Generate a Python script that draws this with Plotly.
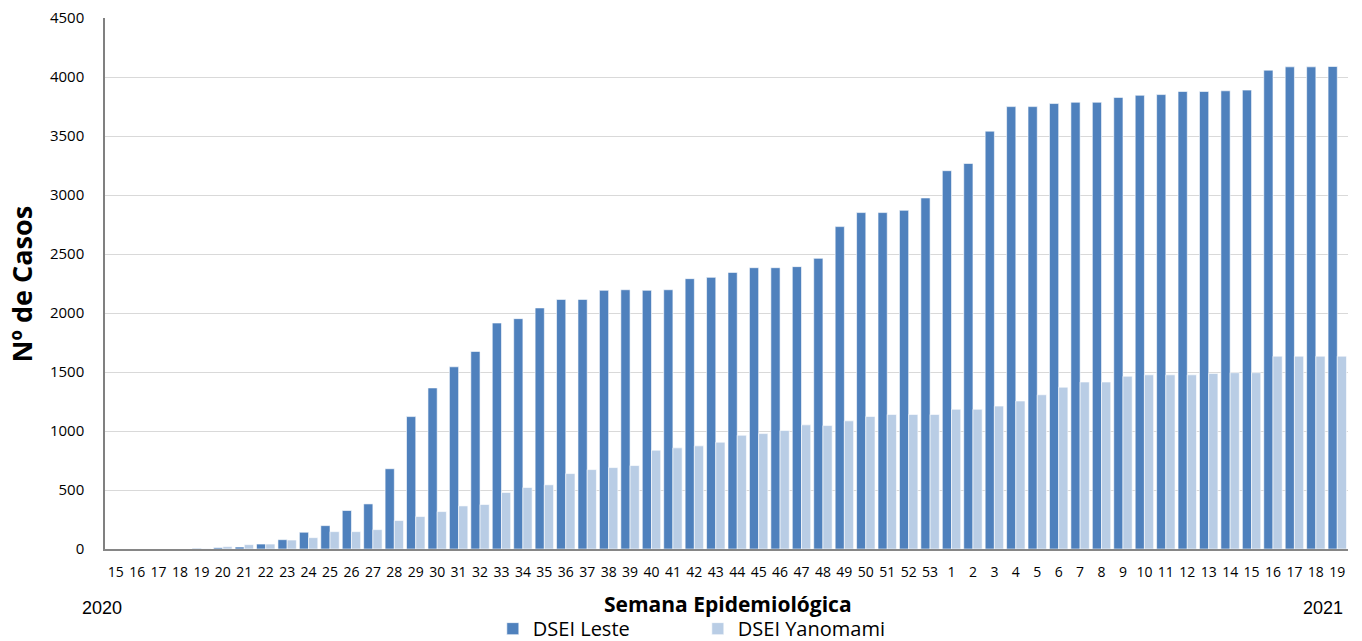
import plotly.graph_objects as go

weeks = [str(w) for w in range(15, 54)] + [str(w) for w in range(1, 20)]

dsei_leste = [0, 0, 0, 0, 5, 11, 17, 42, 79, 142, 198, 326, 382, 680, 1122, 1365, 1544, 1674,
              1915, 1952, 2043, 2115, 2115, 2192, 2197, 2192, 2197, 2291, 2302, 2344, 2384, 2384,
              2393, 2463, 2732, 2851, 2851, 2870, 2975,
              3206, 3267, 3541, 3749, 3749, 3775, 3786, 3786, 3827, 3845, 3851, 3877, 3877, 3883,
              3889, 4058, 4086, 4086, 4089]

dsei_yanomami = [0, 0, 0, 0, 2, 20, 37, 42, 76, 96, 147, 147, 164, 241, 275, 317, 365, 377,
                 479, 521, 544, 639, 673, 690, 707, 837, 857, 874, 905, 964, 978, 1004,
                 1052, 1046, 1086, 1123, 1140, 1140, 1140,
                 1184, 1184, 1211, 1254, 1307, 1371, 1415, 1415, 1464, 1476, 1476, 1476, 1488, 1494,
                 1494, 1634, 1634, 1634, 1634]

y_ticks = [0, 500, 1000, 1500, 2000, 2500, 3000, 3500, 4000, 4500]

x_pos = list(range(len(weeks)))

FONT = "'Open Sans', Lato, sans-serif"
ARIAL = "'Liberation Sans', Arial, sans-serif"

fig = go.Figure()
fig.add_trace(go.Bar(x=x_pos, y=dsei_leste, name="DSEI Leste",
                     marker=dict(color="#4F81BD", line=dict(color="white", width=0.6))))
fig.add_trace(go.Bar(x=x_pos, y=dsei_yanomami, name="DSEI Yanomami",
                     marker=dict(color="#B9CDE5", line=dict(color="white", width=0.6))))

fig.update_layout(
    width=1362, height=641,
    margin=dict(l=105, r=14, t=18, b=92, autoexpand=False),
    paper_bgcolor="white", plot_bgcolor="white",
    barmode="group", bargap=0.14, bargroupgap=0.0,
    font=dict(family=FONT, color="#000000"),
    showlegend=True,
    legend=dict(orientation="h", x=0.312, xanchor="left", y=-0.150, yanchor="middle",
                font=dict(size=20, family=FONT, color="#000000"),
                entrywidth=160, entrywidthmode="pixels", itemwidth=30,
                bgcolor="rgba(0,0,0,0)"),
    xaxis=dict(tickmode="array", tickvals=x_pos, ticktext=weeks,
               range=[-0.5, len(weeks) - 0.5],
               showgrid=False, showline=True, linecolor="#868686", linewidth=1.5,
               ticks="", tickfont=dict(size=14, family=FONT, color="#000000"),
               ticklabelstandoff=9),
    yaxis=dict(range=[0, 4500], tickvals=y_ticks, showgrid=True, gridcolor="#D9D9D9",
               gridwidth=1.2, showline=True, linecolor="#808080", linewidth=1.5,
               ticks="", tickfont=dict(size=15, family=FONT, color="#000000"),
               ticklabelstandoff=16, zeroline=False),
    annotations=[
        dict(text="<b>Nº de Casos</b>", xref="paper", yref="paper", x=-0.0668, y=0.5,
             textangle=-90, showarrow=False, xanchor="center", yanchor="middle",
             font=dict(size=27, family=FONT, color="#000000")),
        dict(text="<b>Semana Epidemiológica</b>", xref="paper", yref="paper", x=0.501, y=-0.104,
             showarrow=False, xanchor="center", yanchor="middle",
             font=dict(size=21, family=FONT, color="#000000")),
        dict(text="2020", xref="paper", yref="paper", x=-0.0024, y=-0.111,
             showarrow=False, xanchor="center", yanchor="middle",
             font=dict(size=18, family=ARIAL, color="#000000")),
        dict(text="2021", xref="paper", yref="paper", x=0.9795, y=-0.111,
             showarrow=False, xanchor="center", yanchor="middle",
             font=dict(size=18, family=ARIAL, color="#000000")),
    ],
)

fig.write_html("out.html", config={"displayModeBar": False},
               post_script="document.body.style.margin='0px';")
